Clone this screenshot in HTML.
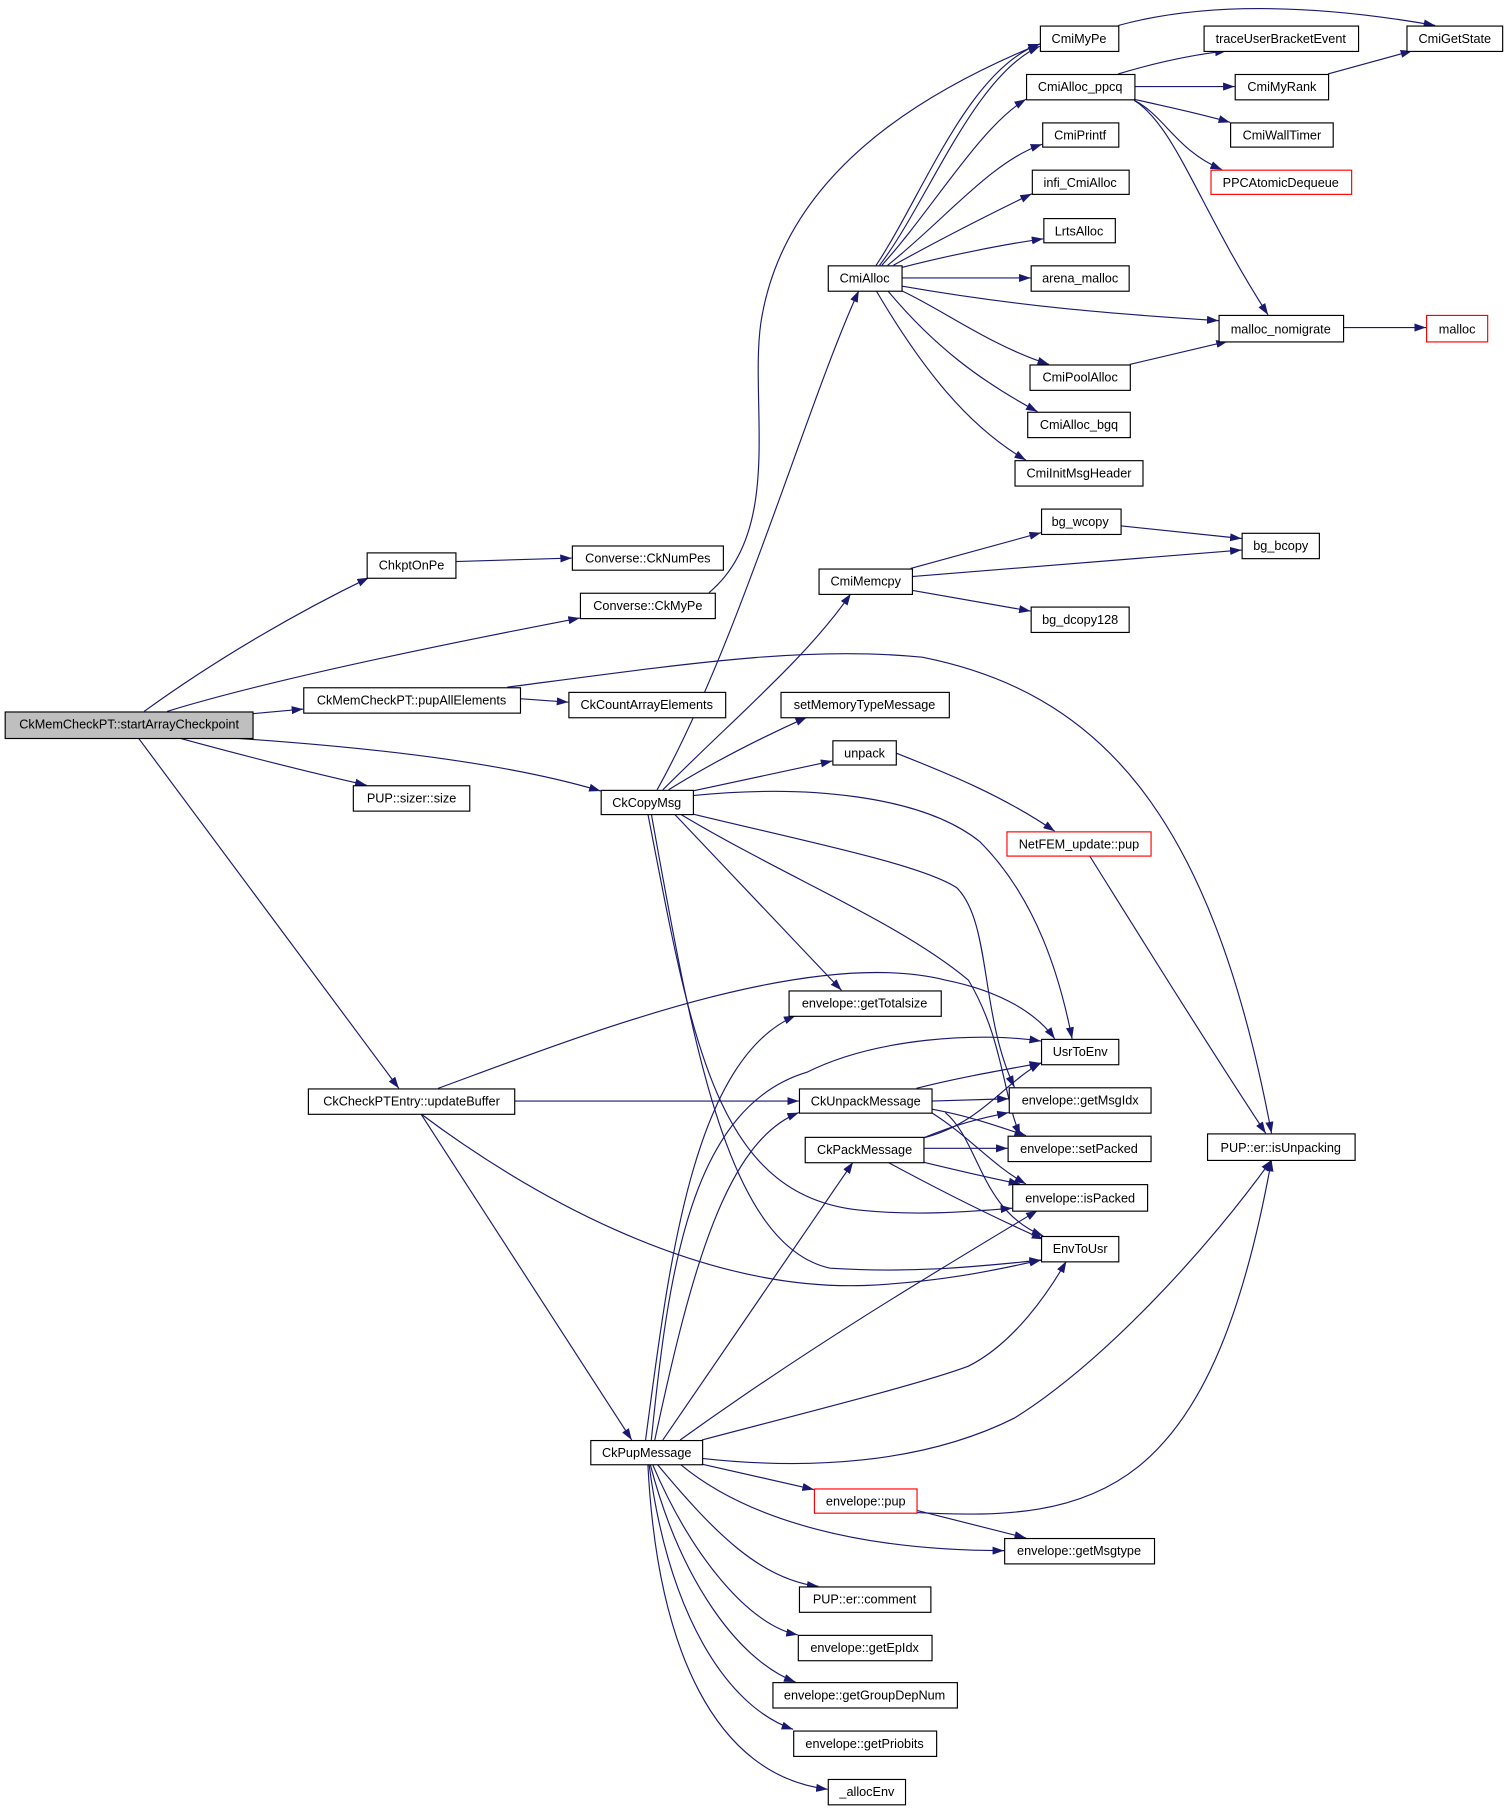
<!DOCTYPE html>
<html><head><meta charset="utf-8"><style>
html,body{margin:0;padding:0;background:#fff;}
svg{display:block;}
text{font-family:"Liberation Sans",sans-serif;font-size:11px;fill:#000;}
</style></head><body>
<svg width="1509" height="1809" viewBox="0 0 1309 1569" xmlns="http://www.w3.org/2000/svg">
<defs><marker id="a" viewBox="0 0 10 7" refX="10" refY="3.5" markerWidth="10" markerHeight="7" markerUnits="userSpaceOnUse" orient="auto"><path d="M0,0 L10,3.5 L0,7 z" fill="#191970"/></marker></defs>
<g fill="none" stroke="#191970" stroke-width="1" marker-end="url(#a)">
<path d="M125,617 C190,570 260,530 320,501"/>
<path d="M145,617 C200,600 300,575 503,536"/>
<path d="M219,619 L263,615"/>
<path d="M155,640 C210,655 260,668 318,681"/>
<path d="M200,640 C350,650 450,665 521,686"/>
<path d="M120,640 L346,944"/>
<path d="M395,487 L496,484"/>
<path d="M615,514 C680,460 650,350 660,280 C680,150 800,80 902,38"/>
<path d="M451,606 L493,609"/>
<path d="M440,596 C600,575 700,560 800,570 C950,600 1050,700 1103,983"/>
<path d="M760,230 C800,170 840,60 902,38"/>
<path d="M763,230 C805,175 845,65 902,40"/>
<path d="M765,230 C810,180 850,110 890,86"/>
<path d="M770,230 C820,190 860,140 904,125"/>
<path d="M775,230 C820,205 860,185 895,168"/>
<path d="M782,232 C820,222 870,212 905,207"/>
<path d="M782,241 L894,241"/>
<path d="M782,248 C880,265 960,272 1057,278"/>
<path d="M782,252 C820,270 860,300 910,316"/>
<path d="M770,252 C810,300 850,330 900,357"/>
<path d="M760,252 C800,320 840,370 890,399"/>
<path d="M970,64 C1000,55 1030,48 1064,44"/>
<path d="M984,75 L1071,75"/>
<path d="M984,86 C1010,92 1040,98 1067,106"/>
<path d="M984,87 C1010,100 1020,130 1060,147"/>
<path d="M984,87 C1020,110 1040,180 1100,273"/>
<path d="M970,22 C1050,0 1150,5 1245,22"/>
<path d="M1152,64 L1225,44"/>
<path d="M980,316 L1065,296"/>
<path d="M1165,284 L1237,284"/>
<path d="M790,493 L903,462"/>
<path d="M791,500 L1077,477"/>
<path d="M791,512 L894,530"/>
<path d="M972,456 L1077,467"/>
<path d="M570,685 C640,560 700,350 745,252"/>
<path d="M575,685 C640,620 700,570 738,515"/>
<path d="M580,685 C620,660 660,640 700,622"/>
<path d="M601,686 L722,660"/>
<path d="M601,690 C700,680 800,690 850,730 C900,780 920,850 930,901"/>
<path d="M601,706 C700,730 800,750 830,770 C860,800 850,880 880,943"/>
<path d="M590,706 C680,760 780,800 840,850 C870,900 870,950 885,985"/>
<path d="M585,706 L730,859"/>
<path d="M562,706 C600,900 620,1040 750,1050 C800,1055 850,1050 878,1048"/>
<path d="M565,706 C600,900 630,1080 720,1100 C800,1105 860,1097 903,1093"/>
<path d="M777,653 C820,670 870,690 915,721"/>
<path d="M945,742 C1000,830 1050,910 1098,983"/>
<path d="M380,944 C500,900 700,820 820,850 C870,860 900,880 915,901"/>
<path d="M446,955 L693,955"/>
<path d="M365,966 C450,1030 600,1120 750,1115 C820,1112 870,1100 903,1093"/>
<path d="M365,966 L548,1249"/>
<path d="M795,944 C830,935 870,928 903,922"/>
<path d="M808,955 L875,953"/>
<path d="M808,962 C840,968 860,975 890,985"/>
<path d="M808,965 C840,985 860,1010 890,1027"/>
<path d="M820,965 C850,990 850,1050 905,1072"/>
<path d="M801,987 C850,975 870,940 903,922"/>
<path d="M801,987 C830,975 850,970 875,965"/>
<path d="M801,996 L874,996"/>
<path d="M801,1008 C830,1015 860,1022 885,1027"/>
<path d="M770,1008 C820,1035 860,1055 905,1075"/>
<path d="M560,1249 C580,1100 600,920 690,881"/>
<path d="M565,1249 C580,1100 600,960 700,930 C760,900 850,895 903,903"/>
<path d="M568,1249 C600,1100 630,990 693,965"/>
<path d="M575,1249 L740,1008"/>
<path d="M590,1249 C700,1170 800,1110 900,1050"/>
<path d="M609,1249 C700,1225 800,1200 840,1185 C880,1165 910,1120 925,1094"/>
<path d="M609,1265 C700,1275 800,1270 880,1230 C960,1180 1050,1080 1103,1006"/>
<path d="M609,1270 L706,1292"/>
<path d="M590,1270 C650,1320 750,1345 871,1345"/>
<path d="M570,1270 C620,1330 660,1370 710,1376"/>
<path d="M566,1270 C600,1350 650,1410 692,1418"/>
<path d="M564,1270 C590,1370 640,1440 690,1459"/>
<path d="M563,1270 C580,1400 630,1480 688,1500"/>
<path d="M562,1270 C570,1430 620,1540 718,1552"/>
<path d="M795,1310 L890,1334"/>
<path d="M795,1312 C950,1320 1050,1300 1103,1006"/>
</g>
<g stroke-width="1" text-anchor="middle">
<rect x="4.5" y="617.5" width="215" height="23" fill="#bfbfbf" stroke="#000"/><text x="112" y="632">CkMemCheckPT::startArrayCheckpoint</text>
<g fill="#fff" stroke="#000">
<rect x="318.5" y="479.5" width="77" height="22"/>
<rect x="496.5" y="473.5" width="131" height="21"/>
<rect x="503.5" y="514.5" width="117" height="22"/>
<rect x="263.5" y="596.5" width="188" height="22"/>
<rect x="493.5" y="600.5" width="136" height="22"/>
<rect x="306.5" y="681.5" width="101" height="22"/>
<rect x="521.5" y="685.5" width="80" height="21"/>
<rect x="267.5" y="944.5" width="179" height="22"/>
<rect x="512.5" y="1249.5" width="97" height="21"/>
<rect x="902.5" y="22.5" width="68" height="22"/>
<rect x="890.5" y="64.5" width="94" height="22"/>
<rect x="904.5" y="106.5" width="66" height="21"/>
<rect x="895.5" y="147.5" width="84" height="21"/>
<rect x="905.5" y="189.5" width="62" height="21"/>
<rect x="894.5" y="230.5" width="85" height="22"/>
<rect x="718.5" y="230.5" width="64" height="22"/>
<rect x="893.5" y="316.5" width="87" height="22"/>
<rect x="891.5" y="357.5" width="89" height="22"/>
<rect x="880.5" y="399.5" width="111" height="22"/>
<rect x="903.5" y="441.5" width="69" height="22"/>
<rect x="710.5" y="493.5" width="81" height="22"/>
<rect x="1077.5" y="462.5" width="67" height="22"/>
<rect x="894.5" y="526.5" width="85" height="22"/>
<rect x="1044.5" y="22.5" width="134" height="22"/>
<rect x="1071.5" y="64.5" width="81" height="22"/>
<rect x="1067.5" y="106.5" width="89" height="21"/>
<rect x="1220.5" y="22.5" width="83" height="22"/>
<rect x="1057.5" y="273.5" width="108" height="23"/>
<rect x="677.5" y="600.5" width="146" height="22"/>
<rect x="722.5" y="642.5" width="55" height="21"/>
<rect x="684.5" y="859.5" width="132" height="22"/>
<rect x="903.5" y="901.5" width="67" height="22"/>
<rect x="693.5" y="944.5" width="115" height="21"/>
<rect x="875.5" y="943.5" width="123" height="22"/>
<rect x="698.5" y="986.5" width="103" height="22"/>
<rect x="874.5" y="985.5" width="124" height="22"/>
<rect x="878.5" y="1027.5" width="117" height="23"/>
<rect x="903.5" y="1072.5" width="67" height="22"/>
<rect x="1047.5" y="983.5" width="128" height="23"/>
<rect x="871.5" y="1334.5" width="130" height="22"/>
<rect x="693.5" y="1376.5" width="114" height="22"/>
<rect x="692.5" y="1418.5" width="116" height="22"/>
<rect x="670.5" y="1459.5" width="160" height="22"/>
<rect x="688.5" y="1501.5" width="124" height="22"/>
<rect x="718.5" y="1543.5" width="67" height="22"/>
</g>
<g fill="#fff" stroke="#f00">
<rect x="1050.5" y="147.5" width="122" height="21"/>
<rect x="1237.5" y="273.5" width="53" height="23"/>
<rect x="873.5" y="721.5" width="125" height="21"/>
<rect x="706.5" y="1291.5" width="89" height="21"/>
</g>
<text x="357" y="494">ChkptOnPe</text>
<text x="562" y="488">Converse::CkNumPes</text>
<text x="562" y="529">Converse::CkMyPe</text>
<text x="357" y="611">CkMemCheckPT::pupAllElements</text>
<text x="561" y="615">CkCountArrayElements</text>
<text x="357" y="696">PUP::sizer::size</text>
<text x="561" y="700">CkCopyMsg</text>
<text x="357" y="959">CkCheckPTEntry::updateBuffer</text>
<text x="561" y="1264">CkPupMessage</text>
<text x="936" y="37">CmiMyPe</text>
<text x="937" y="79">CmiAlloc_ppcq</text>
<text x="937" y="121">CmiPrintf</text>
<text x="937" y="162">infi_CmiAlloc</text>
<text x="936" y="204">LrtsAlloc</text>
<text x="937" y="245">arena_malloc</text>
<text x="750" y="245">CmiAlloc</text>
<text x="937" y="331">CmiPoolAlloc</text>
<text x="936" y="372">CmiAlloc_bgq</text>
<text x="936" y="414">CmiInitMsgHeader</text>
<text x="937" y="456">bg_wcopy</text>
<text x="751" y="508">CmiMemcpy</text>
<text x="1111" y="477">bg_bcopy</text>
<text x="937" y="541">bg_dcopy128</text>
<text x="1111" y="37">traceUserBracketEvent</text>
<text x="1112" y="79">CmiMyRank</text>
<text x="1112" y="121">CmiWallTimer</text>
<text x="1111" y="162">PPCAtomicDequeue</text>
<text x="1262" y="37">CmiGetState</text>
<text x="1111" y="289">malloc_nomigrate</text>
<text x="1264" y="289">malloc</text>
<text x="750" y="615">setMemoryTypeMessage</text>
<text x="750" y="657">unpack</text>
<text x="936" y="736">NetFEM_update::pup</text>
<text x="750" y="874">envelope::getTotalsize</text>
<text x="937" y="916">UsrToEnv</text>
<text x="751" y="959">CkUnpackMessage</text>
<text x="937" y="958">envelope::getMsgIdx</text>
<text x="750" y="1001">CkPackMessage</text>
<text x="936" y="1000">envelope::setPacked</text>
<text x="937" y="1043">envelope::isPacked</text>
<text x="937" y="1087">EnvToUsr</text>
<text x="1111" y="999">PUP::er::isUnpacking</text>
<text x="751" y="1306">envelope::pup</text>
<text x="936" y="1349">envelope::getMsgtype</text>
<text x="750" y="1391">PUP::er::comment</text>
<text x="750" y="1433">envelope::getEpIdx</text>
<text x="750" y="1474">envelope::getGroupDepNum</text>
<text x="750" y="1516">envelope::getPriobits</text>
<text x="752" y="1558">_allocEnv</text>
</g>
</svg>
</body></html>
